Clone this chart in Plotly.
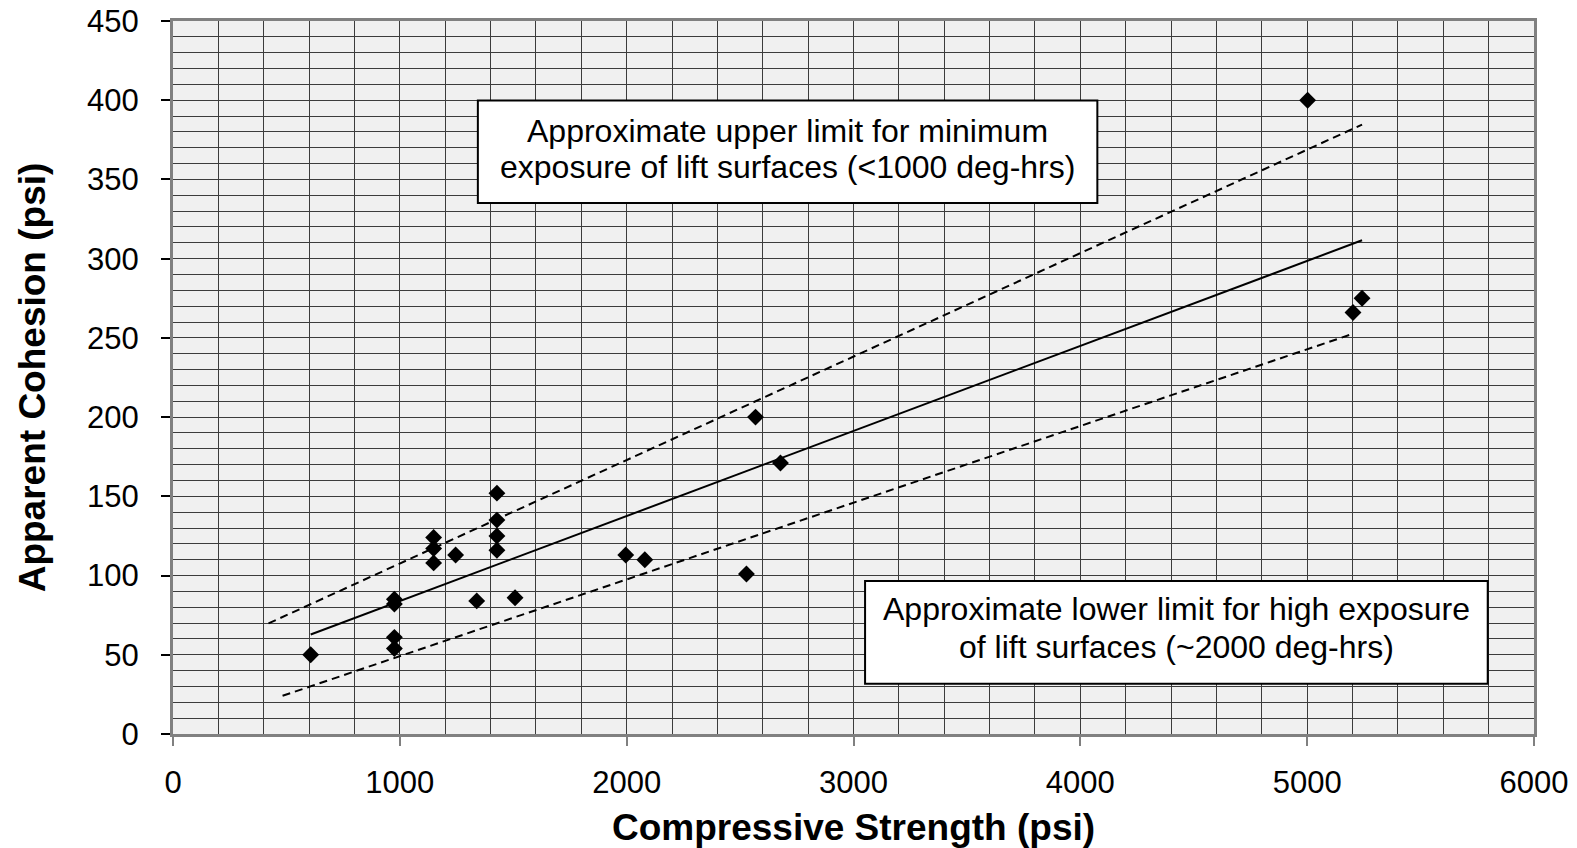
import plotly.graph_objects as go

# Data points (Compressive Strength psi, Apparent Cohesion psi)
strength = [607, 976, 976, 976, 976, 1149, 1149, 1149, 1246, 1339,
            1428, 1428, 1428, 1428, 1508, 1996, 2080, 2528, 2568, 2678,
            5002, 5202, 5242]
cohesion = [50, 85, 82, 61, 54, 124, 117, 108, 113, 84,
            152, 135, 125, 116, 86, 113, 110, 101, 200, 171,
            400, 266, 275]

# Trend line and limit lines (endpoints)
fit_x = [607, 5242]
fit_y = [62.8, 311.6]
upper_x = [421, 5242]
upper_y = [69.8, 384.6]
lower_x = [483, 5202]
lower_y = [24.1, 252.6]

x_ticks = [0, 1000, 2000, 3000, 4000, 5000, 6000]
y_ticks = [0, 50, 100, 150, 200, 250, 300, 350, 400, 450]

upper_text = ["Approximate upper limit for minimum",
              "exposure of lift surfaces (<1000 deg-hrs)"]
lower_text = ["Approximate lower limit for high exposure",
              "of lift surfaces (~2000 deg-hrs)"]

FONT = "Liberation Sans, Arial, sans-serif"

fig = go.Figure()
fig.add_trace(go.Scatter(x=upper_x, y=upper_y, mode="lines",
                         line=dict(color="black", width=2, dash="8px,5px"),
                         showlegend=False, hoverinfo="skip"))
fig.add_trace(go.Scatter(x=lower_x, y=lower_y, mode="lines",
                         line=dict(color="black", width=2, dash="8px,5px"),
                         showlegend=False, hoverinfo="skip"))
fig.add_trace(go.Scatter(x=fit_x, y=fit_y, mode="lines",
                         line=dict(color="black", width=2),
                         showlegend=False, hoverinfo="skip"))
fig.add_trace(go.Scatter(x=strength, y=cohesion, mode="markers",
                         marker=dict(symbol="diamond", size=13, color="black"),
                         showlegend=False))

# Text boxes
boxes = [
    dict(x0=1344, x1=4075, y0=335.1, y1=399.9, cx=2709, ly=[380.8, 358.0], text=upper_text),
    dict(x0=3051, x1=5796, y0=31.7, y1=96.5, cx=4423, ly=[78.7, 55.2], text=lower_text),
]
for b in boxes:
    fig.add_shape(type="rect", xref="x", yref="y", x0=b["x0"], x1=b["x1"],
                  y0=b["y0"], y1=b["y1"], fillcolor="white",
                  line=dict(color="black", width=2), layer="above")
    for t, yy in zip(b["text"], b["ly"]):
        fig.add_annotation(x=b["cx"], y=yy, xref="x", yref="y", text=t,
                           showarrow=False, xanchor="center", yanchor="middle",
                           font=dict(family=FONT, size=32, color="black"))

grid_color = "#3c3c3c"
fig.update_xaxes(
    range=[0, 6000], tickvals=x_ticks, ticktext=[str(v) for v in x_ticks],
    showgrid=True, gridcolor=grid_color, gridwidth=1,
    minor=dict(dtick=200, showgrid=True, gridcolor=grid_color, gridwidth=1),
    showline=True, linecolor="#808080", linewidth=3, mirror=True,
    ticks="outside", ticklen=9, tickcolor="#808080", tickwidth=2,
    ticklabelstandoff=10, ticklabeloverflow="allow",
    tickfont=dict(family=FONT, size=31, color="black"),
    title=dict(text="<b>Compressive Strength (psi)</b>",
               font=dict(family=FONT, size=37, color="black"), standoff=18),
    zeroline=False, automargin=False,
)
fig.update_yaxes(
    range=[0, 450], tickvals=y_ticks, ticktext=[str(v) for v in y_ticks],
    showgrid=True, gridcolor=grid_color, gridwidth=1,
    minor=dict(dtick=10, showgrid=True, gridcolor=grid_color, gridwidth=1),
    showline=True, linecolor="#808080", linewidth=3, mirror=True,
    ticks="outside", ticklen=9, tickcolor="black", tickwidth=1.5,
    ticklabelstandoff=16, ticklabeloverflow="allow",
    tickfont=dict(family=FONT, size=31, color="black"),
    title=dict(text="<b>Apparent Cohesion (psi)</b>",
               font=dict(family=FONT, size=37, color="black"), standoff=31),
    zeroline=False, automargin=False,
)
fig.update_layout(
    width=1577, height=848,
    margin=dict(l=173, r=43, t=21, b=114),
    paper_bgcolor="white", plot_bgcolor="#f0f0f0",
    font=dict(family=FONT, color="black"),
)
# Remove the default page margin so the figure fills the window exactly.
fig.write_html("out.html",
               config={"displayModeBar": False},
               post_script="document.body.style.margin='0px';document.body.style.overflow='hidden';")
